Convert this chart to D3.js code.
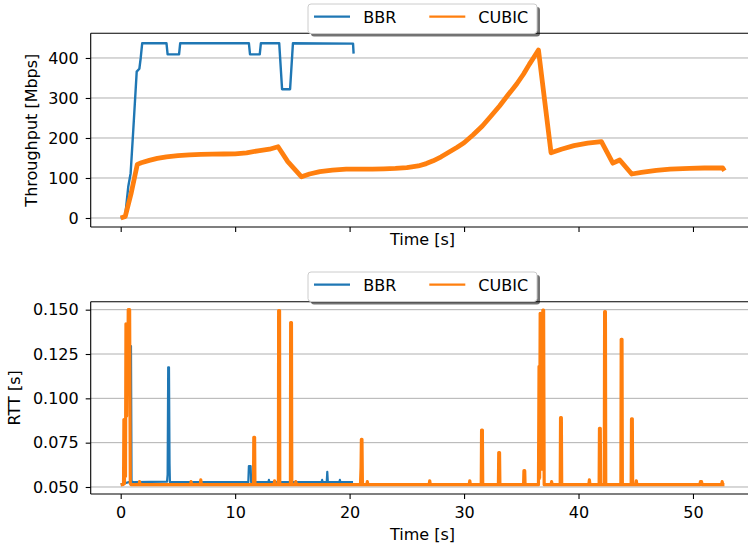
<!DOCTYPE html>
<html>
<head>
<meta charset="utf-8">
<script src="https://cdn.jsdelivr.net/npm/d3@7"></script>
<style>
  html, body { margin: 0; padding: 0; background: #fff; }
  svg { display: block; font-family: "DejaVu Sans", sans-serif; }
</style>
</head>
<body>
<svg id="chart" width="748" height="548"></svg>
<script>
// Throughput over time: [time (s), Mbps]
const bbrThroughput = [
  [0, 0], [0.38, 1], [0.66, 78], [0.87, 112], [1.1, 220], [1.4, 366], [1.63, 373],
  [1.75, 400], [1.88, 437], [4.0, 437], [4.1, 409], [5.1, 409], [5.2, 437],
  [11.2, 437], [11.3, 409], [12.15, 409], [12.25, 437], [13.85, 437], [14.1, 322],
  [14.8, 322], [15.05, 437], [20.3, 436], [20.35, 411]
];
const cubicThroughput = [
  [0, 0], [0.4, 4], [0.9, 60], [1.45, 134], [1.8, 138], [2.5, 144], [3.2, 149],
  [4, 153], [5, 156], [6, 158], [7, 159], [8, 159.5], [9, 160], [10, 160.5],
  [11, 163], [12, 168], [13, 172], [13.75, 178], [14.6, 141], [15.8, 103],
  [16.5, 110], [17.4, 116], [18.5, 119.5], [19.7, 122], [22, 122], [23, 123],
  [24, 124], [25, 126], [26, 130], [26.7, 136], [27.3, 143], [28, 153], [28.7, 165],
  [29.4, 177], [30, 188], [30.8, 208], [31.6, 230], [32.3, 253], [33.1, 280],
  [33.8, 306], [34.6, 335], [35.2, 360], [35.7, 384], [36.1, 402], [36.5, 420],
  [37.6, 163], [38.5, 172], [39.6, 181], [40.8, 187], [42.0, 191], [43.0, 137],
  [43.6, 145], [44.65, 110], [45.5, 114], [46.8, 119], [48, 122], [49.7, 124],
  [51, 125], [52.6, 125], [52.75, 118]
];

// Round-trip time over time: [time (s), seconds]
const bbrRtt = [
  [0, 0.0515], [0.3, 0.052], [0.85, 0.053], [0.9, 0.1295], [0.95, 0.053], [1.2, 0.0527],
  [4.05, 0.053], [4.1, 0.057], [4.15, 0.1175], [4.22, 0.1175], [4.27, 0.063], [4.3, 0.0527],
  [11.15, 0.0527], [11.2, 0.0618], [11.35, 0.0618], [11.4, 0.0527], [12.9, 0.0527],
  [12.95, 0.054], [13.0, 0.0527], [17.55, 0.0527], [17.6, 0.054], [17.65, 0.0527],
  [18.0, 0.0527], [18.05, 0.0585], [18.1, 0.0527], [19.1, 0.0527], [19.15, 0.054],
  [19.2, 0.0527], [20.3, 0.0527]
];
const cubicRtt = [
  [0, 0.0512], [0.25, 0.0515], [0.28, 0.088], [0.33, 0.052], [0.36, 0.088], [0.42, 0.056],
  [0.46, 0.142], [0.52, 0.09], [0.56, 0.142], [0.62, 0.105], [0.66, 0.150], [0.72, 0.125],
  [0.78, 0.150], [0.84, 0.052], [0.9, 0.0513],
  [1.6, 0.0513], [1.65, 0.053], [1.7, 0.0513],
  [6.1, 0.0513], [6.15, 0.053], [6.2, 0.0513],
  [6.95, 0.0513], [7.0, 0.054], [7.05, 0.0513],
  [11.6, 0.0513], [11.63, 0.078], [11.7, 0.078], [11.73, 0.0513],
  [13.4, 0.0513], [13.45, 0.0535], [13.5, 0.0513],
  [13.78, 0.0513], [13.8, 0.1495], [13.88, 0.1495], [13.9, 0.0513],
  [14.83, 0.0513], [14.85, 0.1427], [14.92, 0.1427], [14.95, 0.0513],
  [15.25, 0.0513], [15.3, 0.053], [15.35, 0.0513],
  [20.95, 0.0513], [21.0, 0.061], [21.03, 0.0769], [21.08, 0.0769], [21.12, 0.0513],
  [21.5, 0.0513], [21.55, 0.053], [21.6, 0.0513],
  [26.95, 0.0513], [27.0, 0.0535], [27.05, 0.0513],
  [30.45, 0.0513], [30.5, 0.0535], [30.55, 0.0513],
  [31.5, 0.0513], [31.53, 0.0821], [31.6, 0.0821], [31.63, 0.0513],
  [33.0, 0.0513], [33.03, 0.0694], [33.1, 0.0694], [33.13, 0.0513],
  [35.2, 0.0513], [35.23, 0.0592], [35.3, 0.0592], [35.33, 0.0513],
  [36.5, 0.0513], [36.55, 0.118], [36.6, 0.055], [36.65, 0.148], [36.7, 0.09],
  [36.75, 0.148], [36.8, 0.06], [36.88, 0.1497], [36.95, 0.1497], [37.0, 0.0513],
  [37.6, 0.0513], [37.65, 0.053], [37.7, 0.0513],
  [38.4, 0.0513], [38.43, 0.0891], [38.5, 0.0891], [38.53, 0.0513],
  [40.9, 0.0513], [40.95, 0.054], [41.0, 0.0513],
  [41.8, 0.0513], [41.83, 0.0831], [41.9, 0.0831], [41.93, 0.0513],
  [42.25, 0.0513], [42.28, 0.1489], [42.35, 0.1489], [42.38, 0.0513],
  [43.7, 0.0513], [43.73, 0.1333], [43.8, 0.1333], [43.83, 0.0513],
  [44.6, 0.0513], [44.63, 0.0885], [44.7, 0.0885], [44.73, 0.0513],
  [45.0, 0.0513], [45.05, 0.0535], [45.1, 0.0513],
  [50.6, 0.0513], [50.65, 0.053], [50.75, 0.053], [50.8, 0.0513],
  [52.5, 0.0513], [52.55, 0.053], [52.6, 0.0513], [52.75, 0.0513]
];

const seriesNames = ["BBR", "CUBIC"];
const seriesColors = ["#1f77b4", "#ff7f0e"];
const xTicks = [0, 10, 20, 30, 40, 50];
const throughputTicks = [0, 100, 200, 300, 400];
const rttTicks = [0.050, 0.075, 0.100, 0.125, 0.150];

const svg = d3.select("#chart");
const left = 90.7, right = 756.5;

const x = d3.scaleLinear().domain([-2.62, 55.55]).range([left, right]);

function panel(cfg) {
  const { top, bottom, y, ticks, fmt, label, labelX, data, widths, legendY, showXLabels, xLabelY, clipId } = cfg;
  const g = svg.append("g");

  g.append("clipPath").attr("id", clipId)
    .append("rect").attr("x", left).attr("y", top).attr("width", right - left).attr("height", bottom - top);

  // horizontal grid
  g.append("g").selectAll("line").data(ticks).join("line")
    .attr("x1", left).attr("x2", right)
    .attr("y1", d => y(d)).attr("y2", d => y(d))
    .attr("stroke", "#b0b0b0").attr("stroke-width", 1);

  // series
  const line = d3.line().x(d => x(d[0])).y(d => y(d[1]));
  const lines = g.append("g").attr("clip-path", `url(#${clipId})`);
  data.forEach((s, i) => {
    lines.append("path").datum(s)
      .attr("d", line)
      .attr("fill", "none")
      .attr("stroke", seriesColors[i])
      .attr("stroke-width", widths[i])
      .attr("stroke-linejoin", "round")
      .attr("stroke-linecap", "butt");
  });

  // axes
  const yAxis = d3.axisLeft(y).tickValues(ticks).tickFormat(fmt).tickSize(5).tickPadding(7);
  const ya = g.append("g").attr("transform", `translate(${left},0)`).call(yAxis);
  const xAxis = d3.axisBottom(x).tickValues(xTicks).tickSize(5).tickPadding(8)
    .tickFormat(showXLabels ? d3.format("d") : () => "");
  const xa = g.append("g").attr("transform", `translate(0,${bottom})`).call(xAxis);
  [ya, xa].forEach(a => {
    a.select(".domain").remove();
    a.selectAll("line").attr("stroke", "#000").attr("stroke-width", 1.1);
    a.selectAll("text").attr("font-size", 16).attr("fill", "#000")
      .attr("font-family", "DejaVu Sans, sans-serif");
  });

  // spines (right spine falls outside the canvas)
  const sp = g.append("g").attr("stroke", "#000").attr("stroke-width", 1.1).attr("fill", "none");
  sp.append("line").attr("x1", left).attr("x2", left).attr("y1", top).attr("y2", bottom);
  sp.append("line").attr("x1", left).attr("x2", right).attr("y1", bottom).attr("y2", bottom);
  sp.append("line").attr("x1", left).attr("x2", right).attr("y1", top).attr("y2", top);
  sp.append("line").attr("x1", right).attr("x2", right).attr("y1", top).attr("y2", bottom);

  // axis titles
  g.append("text").attr("x", 422.5).attr("y", xLabelY)
    .attr("text-anchor", "middle").attr("font-size", 16).text("Time [s]");
  g.append("text")
    .attr("transform", `translate(${labelX},${(top + bottom) / 2}) rotate(-90)`)
    .attr("text-anchor", "middle").attr("font-size", 16).text(label);

  // legend with drop shadow
  const lg = g.append("g").attr("transform", `translate(308,${legendY})`);
  const lw = 229, lh = 29.5;
  lg.append("rect").attr("x", 3).attr("y", 3).attr("width", lw).attr("height", lh)
    .attr("rx", 3).attr("fill", "#000").attr("opacity", 0.55);
  lg.append("rect").attr("x", 0).attr("y", 0).attr("width", lw).attr("height", lh)
    .attr("rx", 3).attr("fill", "#fff").attr("stroke", "#cccccc").attr("stroke-width", 1);
  const entries = [{ x0: 6, tx: 55.3 }, { x0: 121.3, tx: 170.3 }];
  seriesNames.forEach((name, i) => {
    lg.append("line").attr("x1", entries[i].x0).attr("x2", entries[i].x0 + 36)
      .attr("y1", 12.7).attr("y2", 12.7)
      .attr("stroke", seriesColors[i]).attr("stroke-width", 2.2);
    lg.append("text").attr("x", entries[i].tx).attr("y", 18.5)
      .attr("font-size", 16).attr("fill", "#000").text(name);
  });
}

panel({
  top: 33.3, bottom: 227,
  y: d3.scaleLinear().domain([-22.5, 461.7]).range([227, 33.3]),
  ticks: throughputTicks, fmt: d3.format("d"),
  label: "Throughput [Mbps]", labelX: 37,
  data: [bbrThroughput, cubicThroughput], widths: [2.4, 4.8],
  legendY: 4, showXLabels: false, xLabelY: 245, clipId: "clipTop"
});

panel({
  top: 301.7, bottom: 494,
  y: d3.scaleLinear().domain([0.04605, 0.1545]).range([494, 301.7]),
  ticks: rttTicks, fmt: d3.format(".3f"),
  label: "RTT [s]", labelX: 20,
  data: [bbrRtt, cubicRtt], widths: [2.2, 3.2],
  legendY: 272, showXLabels: true, xLabelY: 539.5, clipId: "clipBottom"
});
</script>
</body>
</html>
